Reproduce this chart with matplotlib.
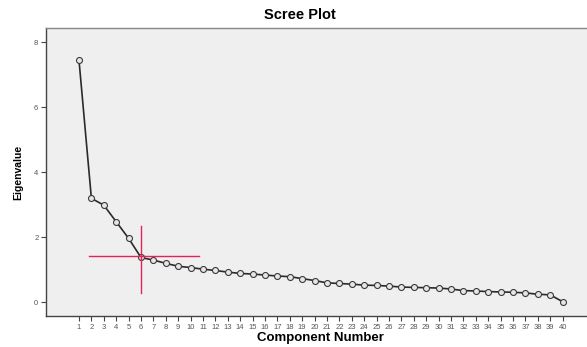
import matplotlib
matplotlib.use("Agg")
import matplotlib.pyplot as plt

components = list(range(1, 41))
eigenvalues = [7.45, 3.20, 2.99, 2.48, 1.97, 1.38, 1.30, 1.20, 1.11, 1.07,
               1.02, 0.98, 0.93, 0.89, 0.87, 0.84, 0.81, 0.79, 0.73, 0.67,
               0.60, 0.58, 0.56, 0.53, 0.52, 0.50, 0.47, 0.46, 0.45, 0.44,
               0.41, 0.36, 0.35, 0.33, 0.32, 0.31, 0.29, 0.25, 0.23, 0.02]
y_ticks = [0, 2, 4, 6, 8]
elbow_x = 6
elbow_y = 1.42

plt.rcParams['font.family'] = ['Liberation Sans', 'DejaVu Sans']

fig = plt.figure(figsize=(5.87, 3.47), dpi=100)
ax = fig.add_axes([46/587, 1-316/347, (594-46)/587, (316-28)/347])
ax.set_facecolor('#efefef')

ax.plot(components, eigenvalues, color='#2a2a2a', lw=1.2, marker='o',
        markersize=4.3, markerfacecolor='#e6e6e6', markeredgecolor='#3a3a3a',
        markeredgewidth=0.8, zorder=3)

# red crosshair at the elbow
ax.plot([elbow_x - 4.2, elbow_x + 4.7], [elbow_y, elbow_y], color='#e0245a', lw=1.0, zorder=4)
ax.plot([elbow_x, elbow_x], [elbow_y - 1.13, elbow_y + 0.93], color='#e0245a', lw=1.0, zorder=4)

ax.set_xlim(-1.66, 42.53)
ax.set_ylim(-0.42, 8.44)
ax.set_xticks(components)
ax.set_xticklabels([str(c) for c in components], fontsize=5.5, color='#555555')
ax.set_yticks(y_ticks)
ax.set_yticklabels([str(v) for v in y_ticks], fontsize=5.5, color='#555555')
ax.tick_params(axis='both', direction='out', length=3.5, width=0.8, color='#444444', pad=2)

for s in ['left', 'bottom']:
    ax.spines[s].set_color('#444444')
    ax.spines[s].set_linewidth(1.0)
ax.spines['top'].set_color('#888888')
ax.spines['top'].set_linewidth(1.0)
ax.spines['right'].set_visible(False)

ax.set_xlabel('Component Number', fontsize=9.5, fontweight='bold', labelpad=1)
ax.set_ylabel('Eigenvalue', fontsize=7.5, fontweight='bold', labelpad=8)
fig.text(300/587, 1-15/347, 'Scree Plot', ha='center', va='center',
         fontsize=10.5, fontweight='bold')

fig.savefig('out.png', dpi=100, facecolor='white')
